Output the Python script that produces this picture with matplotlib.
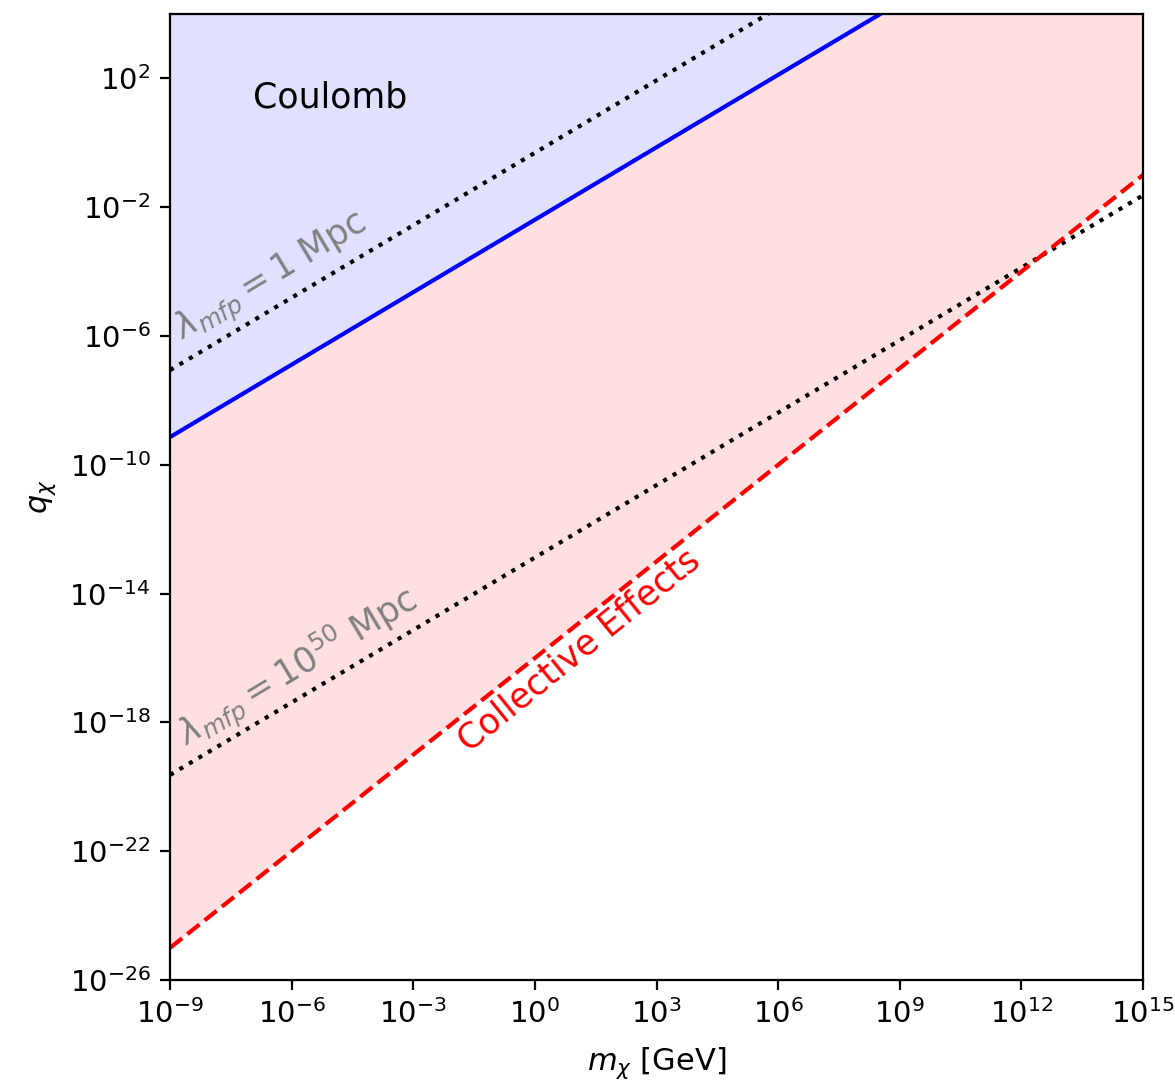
import matplotlib
matplotlib.use('Agg')
import matplotlib.pyplot as plt
import numpy as np

# line end points (m in GeV, q dimensionless)
m_chi = np.array([1e-9, 1e15])
q_coulomb = np.array([10**-9.14, 10**8.86])
q_mfp_1mpc = np.array([10**-7.06, 10**10.94])
q_mfp_1e50 = np.array([10**-19.63, 10**-1.63])
q_collective = np.array([1e-25, 1e-1])

x_ticks = [1e-9, 1e-6, 1e-3, 1e0, 1e3, 1e6, 1e9, 1e12, 1e15]
y_ticks = [1e-26, 1e-22, 1e-18, 1e-14, 1e-10, 1e-6, 1e-2, 1e2]
x_lim = (1e-9, 1e15)
y_lim = (1e-26, 1e4)

fig = plt.figure(figsize=(5.875, 5.42), dpi=200)
ax = fig.add_axes([0.1447, 0.0959, 0.8281, 0.8912])

ax.fill_between(m_chi, q_coulomb, y_lim[1], color='blue', alpha=0.12, linewidth=0)
ax.fill_between(m_chi, q_collective, q_coulomb, color='red', alpha=0.12, linewidth=0)

ax.plot(m_chi, q_coulomb, color='blue', lw=1.5)
ax.plot(m_chi, q_mfp_1mpc, 'k:', lw=1.5)
ax.plot(m_chi, q_mfp_1e50, 'k:', lw=1.5)
ax.plot(m_chi, q_collective, 'r--', lw=1.5)

ax.set_xscale('log')
ax.set_yscale('log')
ax.set_xlim(*x_lim)
ax.set_ylim(*y_lim)
ax.set_xticks(x_ticks)
ax.set_yticks(y_ticks)
ax.minorticks_off()
ax.tick_params(labelsize=10.5)

ax.set_xlabel(r'$m_\chi$ [GeV]', fontsize=11, labelpad=6)
ax.set_ylabel(r'$q_\chi$', fontsize=11)

ax.text(10**-5.05, 10**1.42, 'Coulomb', fontsize=12.5, ha='center', va='center')
ax.text(10**-6.5, 10**-4.2, r'$\lambda_{mfp} = 1$ Mpc', fontsize=12.5, color='gray',
        rotation=31, ha='center', va='center', rotation_mode='anchor')
ax.text(10**-5.86, 10**-16.31, r'$\lambda_{mfp} = 10^{50}$ Mpc', fontsize=12.5, color='gray',
        rotation=31, ha='center', va='center', rotation_mode='anchor')
ax.text(10**1.1, 10**-15.75, 'Collective Effects', fontsize=12.5, color='red',
        rotation=39, ha='center', va='center', rotation_mode='anchor')

fig.savefig('out.png', dpi=200)
